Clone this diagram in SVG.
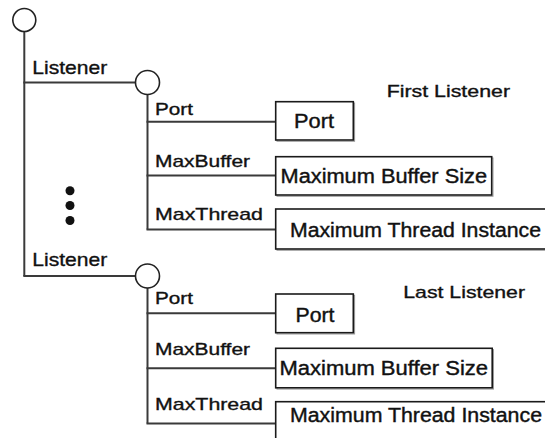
<svg xmlns="http://www.w3.org/2000/svg" width="545" height="438" viewBox="0 0 545 438">
<style>
  .ln { stroke: #3a3a3a; stroke-width: 2; fill: none; }
  .node { fill: #ffffff; stroke: #222222; stroke-width: 1.6; }
  .box { fill: #ffffff; stroke: #1a1a1a; stroke-width: 1.6; }
  .shadow { fill: none; stroke: #9a9a9a; stroke-width: 1; }
  .lbl { font-family: "Liberation Sans", Arial, sans-serif; font-size: 17px; fill: #111111; stroke: #111111; stroke-width: 0.35; }
  .big { font-family: "Liberation Sans", Arial, sans-serif; font-size: 19px; fill: #111111; stroke: #111111; stroke-width: 0.35; }
  .bx { font-family: "Liberation Sans", Arial, sans-serif; font-size: 20px; fill: #111111; stroke: #111111; stroke-width: 0.4; }
  .dot { fill: #111111; }
</style>
<rect width="545" height="438" fill="#ffffff"/>

<g id="connectors">
  <line class="ln" x1="24.3" y1="31.5" x2="24.3" y2="276"/>
  <line class="ln" x1="23.3" y1="82.5" x2="135" y2="82.5"/>
  <line class="ln" x1="23.3" y1="276" x2="135.5" y2="276"/>
  <text class="big" x="32.3" y="74" textLength="75" lengthAdjust="spacingAndGlyphs">Listener</text>
  <text class="big" x="32.3" y="266" textLength="75" lengthAdjust="spacingAndGlyphs">Listener</text>

  <line class="ln" x1="147.5" y1="94.5" x2="147.5" y2="229.5"/>
  <line class="ln" x1="146.5" y1="121.7" x2="275.7" y2="121.7"/>
  <line class="ln" x1="146.5" y1="175.5" x2="275.7" y2="175.5"/>
  <line class="ln" x1="146.5" y1="229.5" x2="275.7" y2="229.5"/>
  <text class="lbl" x="155" y="115" textLength="38" lengthAdjust="spacingAndGlyphs">Port</text>
  <text class="lbl" x="155" y="167.3" textLength="95" lengthAdjust="spacingAndGlyphs">MaxBuffer</text>
  <text class="lbl" x="155" y="220" textLength="108" lengthAdjust="spacingAndGlyphs">MaxThread</text>

  <line class="ln" x1="147.5" y1="288" x2="147.5" y2="423.5"/>
  <line class="ln" x1="146.5" y1="313.3" x2="275.7" y2="313.3"/>
  <line class="ln" x1="146.5" y1="368.3" x2="275.7" y2="368.3"/>
  <line class="ln" x1="146.5" y1="423.5" x2="275.7" y2="423.5"/>
  <text class="lbl" x="155" y="304.3" textLength="38" lengthAdjust="spacingAndGlyphs">Port</text>
  <text class="lbl" x="155" y="355" textLength="95" lengthAdjust="spacingAndGlyphs">MaxBuffer</text>
  <text class="lbl" x="155" y="410" textLength="108" lengthAdjust="spacingAndGlyphs">MaxThread</text>
</g>

<g id="root">
  <circle class="node" cx="24.3" cy="20" r="11.5"/>
</g>

<g id="ellipsis">
  <circle class="dot" cx="70" cy="190.7" r="4.5"/>
  <circle class="dot" cx="70" cy="205.5" r="4.5"/>
  <circle class="dot" cx="70" cy="220.5" r="4.5"/>
</g>

<g id="listener-first">
  <circle class="node" cx="147.5" cy="82.5" r="12"/>
  <text class="lbl" x="386.7" y="96.7" textLength="123.3" lengthAdjust="spacingAndGlyphs">First Listener</text>
</g>

<g id="first-port">
  <rect class="shadow" x="277" y="103" width="77.6" height="38.3"/>
  <rect class="box" x="275.7" y="101.7" width="77.6" height="38.3"/>
  <text class="bx" x="294" y="128.3" textLength="40" lengthAdjust="spacingAndGlyphs">Port</text>
</g>
<g id="first-maxbuffer">
  <rect class="shadow" x="277" y="158" width="216" height="38.3"/>
  <rect class="box" x="275.7" y="156.7" width="216" height="38.3"/>
  <text class="bx" x="280.5" y="183.3" textLength="206.5" lengthAdjust="spacingAndGlyphs">Maximum Buffer Size</text>
</g>
<g id="first-maxthread">
  <rect class="shadow" x="277" y="210.3" width="280" height="40"/>
  <rect class="box" x="275.7" y="209" width="280" height="40"/>
  <text class="bx" x="290" y="237.3" textLength="251" lengthAdjust="spacingAndGlyphs">Maximum Thread Instance</text>
</g>

<g id="listener-last">
  <circle class="node" cx="147.5" cy="276" r="12"/>
  <text class="lbl" x="403.3" y="298.3" textLength="121.7" lengthAdjust="spacingAndGlyphs">Last Listener</text>
</g>

<g id="last-port">
  <rect class="shadow" x="277" y="295.3" width="77.6" height="38.7"/>
  <rect class="box" x="275.7" y="294" width="77.6" height="38.7"/>
  <text class="bx" x="295.5" y="321.7" textLength="39" lengthAdjust="spacingAndGlyphs">Port</text>
</g>
<g id="last-maxbuffer">
  <rect class="shadow" x="277" y="349.6" width="216.5" height="39.5"/>
  <rect class="box" x="275.7" y="348.3" width="216.5" height="39.5"/>
  <text class="bx" x="279.5" y="375" textLength="208.5" lengthAdjust="spacingAndGlyphs">Maximum Buffer Size</text>
</g>
<g id="last-maxthread">
  <rect class="shadow" x="277" y="403" width="280" height="45"/>
  <rect class="box" x="275.7" y="401.7" width="280" height="45"/>
  <text class="bx" x="290" y="421.7" textLength="252" lengthAdjust="spacingAndGlyphs">Maximum Thread Instance</text>
</g>
</svg>
